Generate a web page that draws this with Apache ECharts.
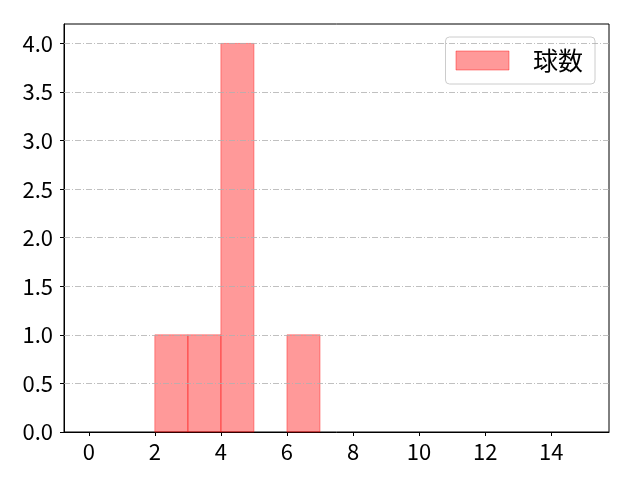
<!DOCTYPE html>
<html><head><meta charset="utf-8">
<script src="https://cdn.jsdelivr.net/npm/echarts@6/dist/echarts.min.js"></script>
<style>html,body{margin:0;padding:0;background:#fff}#c{width:640px;height:480px}</style>
</head><body><div id="c"></div>
<script>
var binStarts = [0,1,2,3,4,5,6,7,8,9,10,11,12,13,14];
var counts    = [0,0,1,1,4,0,1,0,0,0,0,0,0,0,0];
var xTicks = [0,2,4,6,8,10,12,14];
var yTicks = [0,0.5,1,1.5,2,2.5,3,3.5,4];
var gridTicks = [0.5,1,1.5,2,2.5,3,3.5,4];
var seriesName = '球数';

var data = [];
for (var i = 0; i < binStarts.length; i++) {
  if (counts[i] > 0) data.push([binStarts[i], binStarts[i] + 1, counts[i]]);
}
var FONT = '"Noto Sans CJK JP", "DejaVu Sans", sans-serif';
var chart = echarts.init(document.getElementById('c'), null, {renderer: 'canvas'});
chart.setOption({
  animation: false,
  grid: {left: 64, right: 31, top: 24, bottom: 48, show: true, borderColor: '#000', borderWidth: 1, containLabel: false},
  legend: {
    right: 45, top: 37, orient: 'vertical',
    padding: [11, 12, 11, 10],
    itemWidth: 53, itemHeight: 19, itemGap: 0,
    borderColor: '#cccccc', borderWidth: 1, borderRadius: 4,
    backgroundColor: 'rgba(255,255,255,0.8)',
    textStyle: {fontFamily: FONT, fontSize: 25, lineHeight: 24, color: '#000', padding: [0, 0, 0, 19]},
    data: [{name: seriesName, icon: 'rect', itemStyle: {color: 'rgba(255,0,0,0.4)', borderColor: 'rgba(255,0,0,0.4)', borderWidth: 1}}]
  },
  xAxis: {
    type: 'value', min: -0.75, max: 15.75,
    axisLine: {show: true, onZero: false, lineStyle: {color: '#000', width: 1}},
    axisTick: {show: true, inside: false, length: 4, lineStyle: {color: '#000'}, customValues: xTicks},
    axisLabel: {show: true, margin: 9, fontFamily: FONT, fontSize: 22, color: '#000', customValues: xTicks},
    splitLine: {show: false}
  },
  yAxis: {
    type: 'value', min: 0, max: 4.2,
    axisLine: {show: true, onZero: false, lineStyle: {color: '#000', width: 1}},
    axisTick: {show: true, inside: false, length: 4, lineStyle: {color: '#000'}, customValues: yTicks},
    axisLabel: {show: true, margin: 11, fontFamily: FONT, fontSize: 22, color: '#000', customValues: yTicks,
      formatter: function (v) { return v.toFixed(1); }},
    splitLine: {show: false}
  },
  series: [
    {
      name: seriesName, type: 'custom', data: data,
      encode: {x: [0, 1], y: 2},
      renderItem: function (params, api) {
        var p0 = api.coord([api.value(0), api.value(2)]);
        var p1 = api.coord([api.value(1), 0]);
        return {type: 'rect', shape: {x: p0[0], y: p0[1], width: p1[0] - p0[0], height: p1[1] - p0[1]},
          style: {fill: 'rgba(255,0,0,0.4)', stroke: 'rgba(255,0,0,0.4)', lineWidth: 1}};
      },
      z: 3
    },
    {
      name: 'grid', type: 'line', data: [], silent: true,
      markLine: {
        silent: true, symbol: 'none', label: {show: false},
        lineStyle: {color: '#b0b0b0', width: 0.8, type: [6, 2, 1, 2]},
        data: gridTicks.map(function (v) { return {yAxis: v}; })
      },
      z: 1
    }
  ]
});
</script></body></html>
